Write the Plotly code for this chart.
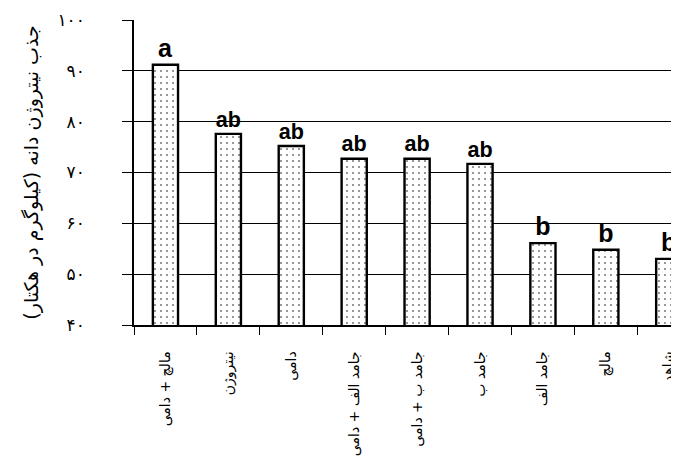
import plotly.graph_objects as go

categories = ["مالچ + دامی", "نیتروژن", "دامی", "جامد الف + دامی", "جامد ب + دامی",
              "جامد ب", "جامد الف", "مالچ", "شاهد"]
values = [91.2, 77.6, 75.2, 72.7, 72.7, 71.7, 56.1, 54.8, 53.0]
letters = ["a", "ab", "ab", "ab", "ab", "ab", "b", "b", "b"]
y_ticks = [40, 50, 60, 70, 80, 90, 100]
y_tick_labels = ["۴۰", "۵۰", "۶۰", "۷۰", "۸۰", "۹۰", "۱۰۰"]

fig = go.Figure()
fig.add_trace(go.Bar(
    x=categories, y=values, text=letters, textposition="outside",
    textfont=dict(family="Liberation Sans", size=25, color="black", weight="bold"),
    cliponaxis=False, width=0.4,
    marker=dict(color="white", line=dict(color="black", width=2.4),
                pattern=dict(shape=".", fgcolor="black", bgcolor="white", size=6, solidity=0.1)),
))

# page body has an 8px default margin, so the figure is offset by (8, 8)
fig.update_layout(
    width=679, height=452,
    margin=dict(l=125.5, r=0, t=12, b=135),
    paper_bgcolor="white", plot_bgcolor="white",
    showlegend=False,
    font=dict(family="DejaVu Sans", color="black"),
    xaxis=dict(type="category", range=[-0.5, 8.29], tickson="boundaries", automargin=False,
               ticks="outside", ticklen=8, tickcolor="black", tickwidth=1,
               tickangle=-90, tickfont=dict(size=14, family="DejaVu Sans"),
               ticklabelstandoff=19, ticklabeloverflow="allow",
               showline=True, linecolor="black", linewidth=1.5, showgrid=False),
    yaxis=dict(range=[40, 100], tickvals=y_ticks, ticktext=y_tick_labels, automargin=False,
               ticks="outside", ticklen=10, tickcolor="black", tickwidth=1,
               tickfont=dict(size=17, family="DejaVu Sans"), ticklabelstandoff=34,
               showline=True, linecolor="black", linewidth=1.5,
               showgrid=True, gridcolor="black", gridwidth=1, zeroline=False,
               title=dict(text="جذب نیتروژن دانه (کیلوگرم در هکتار)",
                          font=dict(size=19, family="DejaVu Sans"), standoff=14)),
)

fig.write_html("out.html")
